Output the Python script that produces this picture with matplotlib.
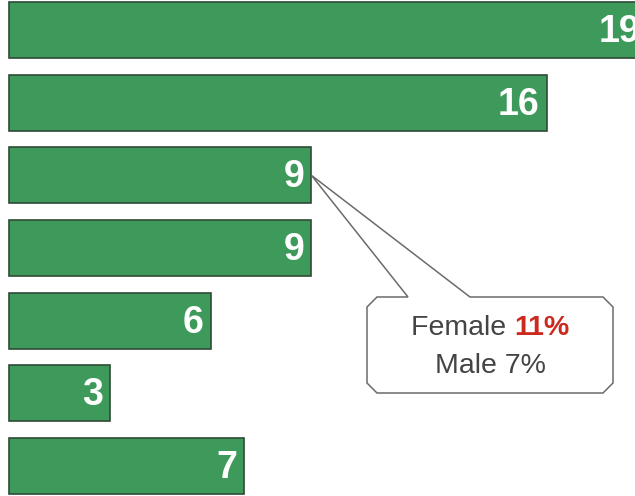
import matplotlib
matplotlib.use('Agg')
import matplotlib.pyplot as plt
from matplotlib.path import Path
from matplotlib.patches import PathPatch

plt.rcParams['font.family'] = ['Liberation Sans Narrow', 'Liberation Sans', 'DejaVu Sans']

# data
values = [19, 16, 9, 9, 6, 3, 7]
labels = ['19', '16', '9', '9', '6', '3', '7']
callout_idx = 2
callout_female = '11%'
callout_male = '7%'

W, H = 635, 496
fig = plt.figure(figsize=(W / 100, H / 100), dpi=100)
ax = fig.add_axes([0, 0, 1, 1])

pos = list(range(len(values)))
ax.barh(pos, values, height=0.77, color='#3d9a5a', edgecolor='#2f4a36', linewidth=1.2)
ax.set_xlim(-0.27, 18.63)
ax.set_ylim(6.413, -0.413)
ax.axis('off')

for p, v, t in zip(pos, values, labels):
    ax.annotate(t, xy=(v, p), xytext=(-5, -1.5), textcoords='offset points',
                ha='right', va='center', color='white', fontsize=27,
                fontweight='bold', annotation_clip=False)

# callout bubble (pixel coords from top-left -> axes fraction)
def fr(px, py):
    return (px / W, 1 - py / H)

fig.canvas.draw()
renderer = fig.canvas.get_renderer()
ax_x, ax_y = ax.transAxes.inverted().transform(
    ax.transData.transform((values[callout_idx], callout_idx)))

L, R, T, B, c = 367, 613, 297, 393, 10
pts = [fr(L + c, T), fr(408, T), (ax_x, ax_y), fr(470, T), fr(R - c, T),
       fr(R, T + c), fr(R, B - c), fr(R - c, B), fr(L + c, B),
       fr(L, B - c), fr(L, T + c), fr(L + c, T)]
codes = [Path.MOVETO, Path.LINETO, Path.LINETO, Path.LINETO, Path.LINETO,
         Path.CURVE3, Path.CURVE3, Path.LINETO, Path.CURVE3, Path.CURVE3,
         Path.LINETO, Path.CLOSEPOLY]
codes = [Path.MOVETO, Path.LINETO, Path.LINETO, Path.LINETO, Path.LINETO,
         Path.LINETO, Path.LINETO, Path.LINETO, Path.LINETO, Path.LINETO,
         Path.LINETO, Path.CLOSEPOLY]
ax.add_patch(PathPatch(Path(pts, codes), transform=ax.transAxes,
                       facecolor='white', edgecolor='#6b6b6b', linewidth=1.1,
                       clip_on=False, zorder=5))

cx = 0.5 * (L + R)
fam = ['Liberation Sans', 'DejaVu Sans']
fs = 20.5
t1 = ax.text(0, 1 - 328 / H, 'Female ', transform=ax.transAxes, ha='left',
             va='center', fontsize=fs, color='#444444', zorder=6, family=fam)
t2 = ax.text(0, 1 - 328 / H, callout_female, transform=ax.transAxes, ha='left',
             va='center', fontsize=fs, color='#cc2a1f', fontweight='bold',
             zorder=6, family=fam)
w1 = t1.get_window_extent(renderer).width
w2 = t2.get_window_extent(renderer).width
x0 = cx - (w1 + w2) / 2
t1.set_x(x0 / W)
t2.set_x((x0 + w1) / W)
ax.text(cx / W, 1 - 366 / H, 'Male ' + callout_male, transform=ax.transAxes,
        ha='center', va='center', fontsize=fs, color='#444444', zorder=6,
        family=fam)

fig.savefig('out.png', dpi=100)
